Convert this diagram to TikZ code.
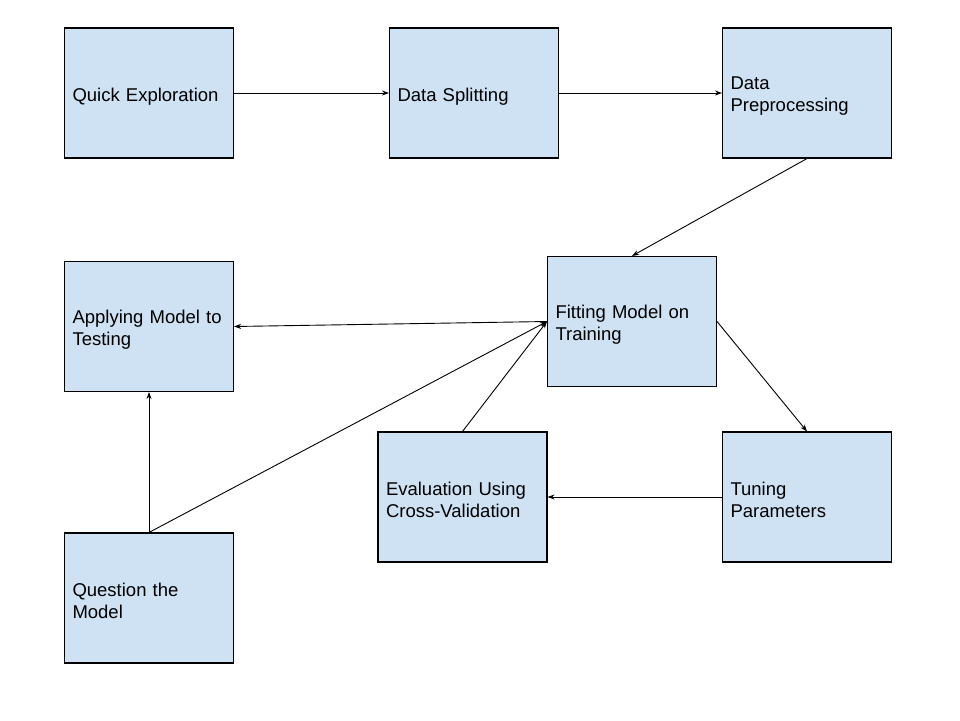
\documentclass[tikz,border=0pt]{standalone}
\usepackage{fontspec}
\setmainfont{Liberation Sans}
\usetikzlibrary{arrows.meta}
\definecolor{boxfill}{HTML}{CFE2F3}
\begin{document}
\begin{tikzpicture}[x=1pt,y=-1pt,
  stagebox/.style={draw=black, line width=1.1pt, fill=boxfill, rectangle,
    minimum width=169pt, minimum height=130pt, inner xsep=8pt, inner ysep=0pt,
    text width=153pt, align=left,
    font=\fontsize{18.5pt}{22pt}\selectfont},
  flow/.style={line width=0.9pt, -{Stealth[length=7pt,width=5pt]}}]
\useasboundingbox (0,0) rectangle (960,720);
\fill[white] (0,0) rectangle (960,720);

% the text sits a little below the geometric centre of each box
% (\parbox[c] centres on the math axis, hence the extra lowering)
\newcommand{\stagetext}[1]{\raisebox{-7.6pt}[0pt][0pt]{\parbox[c]{153pt}{\raggedright #1}}}

\node[stagebox] (qe)  at (149,93)    {\stagetext{Quick Exploration}};
\node[stagebox] (ds)  at (474,93)    {\stagetext{Data Splitting}};
\node[stagebox] (dp)  at (807,93)    {\stagetext{Data\\Preprocessing}};
\node[stagebox] (fit) at (632,321.5) {\stagetext{Fitting Model on\\Training}};
\node[stagebox] (app) at (149,326.5) {\stagetext{Applying Model to\\Testing}};
\node[stagebox] (ev)  at (462.5,497) {\stagetext{Evaluation Using\\Cross-Validation}};
\node[stagebox] (tun) at (807,497)   {\stagetext{Tuning\\Parameters}};
\node[stagebox] (qm)  at (149,598)   {\stagetext{Question the\\Model}};

\draw[flow] (qe.east) -- (ds.west);
\draw[flow] (ds.east) -- (dp.west);
\draw[flow] (dp.south) -- (fit.north);
\draw[flow] (fit.west) -- (app.east);
\draw[flow] (fit.east) -- (tun.north);
\draw[flow] (tun.west) -- (ev.east);
\draw[flow] (ev.north) -- (fit.west);
\draw[flow] (qm.north) -- (app.south);
\draw[flow] (qm.north) -- (fit.west);
\end{tikzpicture}
\end{document}
